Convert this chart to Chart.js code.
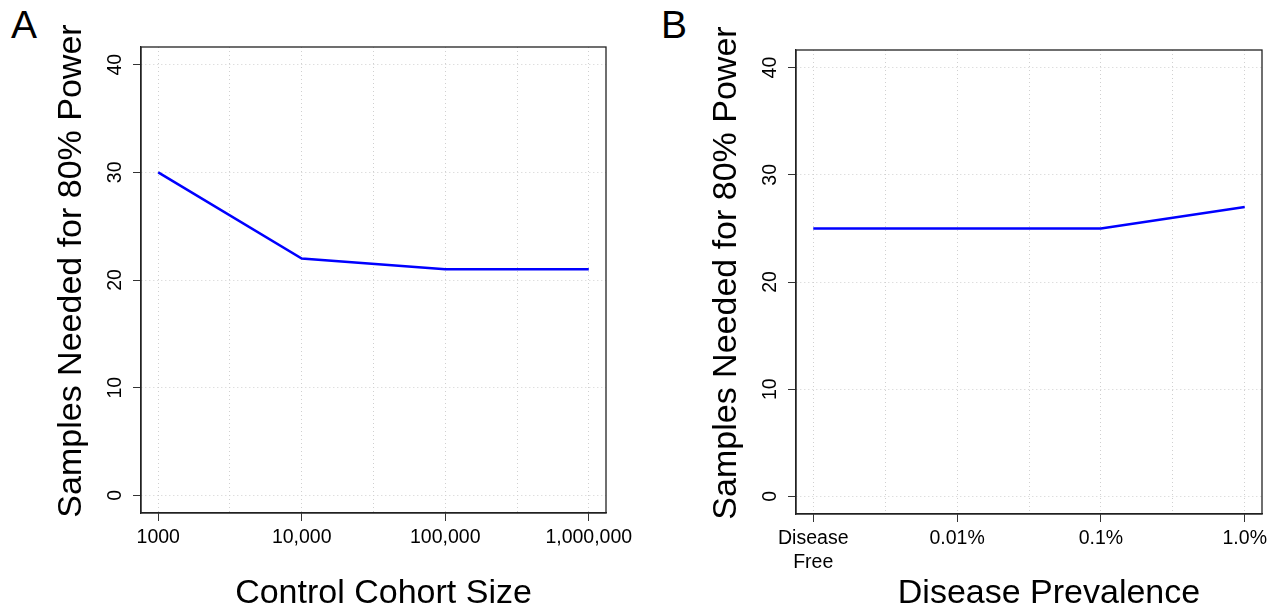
<!DOCTYPE html>
<html>
<head>
<meta charset="utf-8">
<script src="https://cdn.jsdelivr.net/npm/chart.js@4.4.0/dist/chart.umd.min.js"></script>
<style>
  body { margin: 0; background: #fff; width: 1278px; height: 613px; overflow: hidden; position: relative; font-family: "Liberation Sans", Arial, sans-serif; }
  .panel { position: absolute; top: 0; width: 639px; height: 613px; }
  .letter { position: absolute; font-size: 39px; line-height: 39px; color: #000; }
</style>
</head>
<body>
<div class="letter" style="left:11px; top:5px;">A</div>
<div class="letter" style="left:661px; top:5px;">B</div>
<div class="panel" style="left:0px;"><canvas id="chartA" width="639" height="613"></canvas></div>
<div class="panel" style="left:640px;"><canvas id="chartB" width="639" height="613"></canvas></div>
<script>
const cohortSizes = ["1000", "10,000", "100,000", "1,000,000"];
const samplesByCohort = [30, 22, 21, 21];

const prevalence = ["Disease\nFree", "0.01%", "0.1%", "1.0%"];
const samplesByPrevalence = [25, 25, 25, 27];

const yTicks = [0, 10, 20, 30, 40];
const yTitle = "Samples Needed for 80% Power";

const FONT = "'Liberation Sans', Arial, sans-serif";

// box round the plot, rotated y labels and the two axis titles (R style)
const rStyle = {
    id: 'rStyle',
    afterDraw(chart, args, opts) {
        const ctx = chart.ctx;
        const a = chart.chartArea;
        ctx.save();
        ctx.strokeStyle = '#222';
        ctx.lineWidth = 1.3;
        ctx.strokeRect(a.left, a.top, a.right - a.left, a.bottom - a.top);
        const y = chart.scales.y;
        ctx.fillStyle = '#000';
        ctx.font = "19.5px " + FONT;
        ctx.textAlign = 'center';
        ctx.textBaseline = 'middle';
        y.ticks.forEach(t => {
            const py = y.getPixelForValue(t.value);
            ctx.save();
            ctx.translate(a.left - 25, py);
            ctx.rotate(-Math.PI / 2);
            ctx.fillText(String(t.value), 0, 0);
            ctx.restore();
        });
        ctx.font = "34px " + FONT;
        ctx.textBaseline = 'alphabetic';
        // x title
        ctx.fillText(opts.xTitle, (a.left + a.right) / 2 + opts.xShift, 603);
        // y title
        ctx.translate(opts.titleX, (a.top + a.bottom) / 2 - 9);
        ctx.rotate(-Math.PI / 2);
        ctx.fillText(yTitle, 0, 0);
        ctx.restore();
    }
};

function drawPanel(canvasId, labels, values, xTitle, area) {
    const n = labels.length;
    const pad = (n - 1) * 0.04;
    const xTickVals = [];
    for (let v = 0; v <= n - 1; v += 0.5) xTickVals.push(v);

    new Chart(document.getElementById(canvasId), {
        type: 'line',
        data: {
            datasets: [{
                data: values.map((v, i) => ({ x: i, y: v })),
                borderColor: '#0000ff',
                borderWidth: 2.5,
                pointRadius: 0,
                tension: 0,
                fill: false
            }]
        },
        plugins: [rStyle],
        options: {
            responsive: false,
            animation: false,
            layout: { padding: { top: area.top, right: area.right, left: 0, bottom: 0 } },
            plugins: {
                legend: { display: false },
                tooltip: { enabled: false },
                rStyle: { titleX: area.titleX, xTitle: xTitle, xShift: area.xShift }
            },
            scales: {
                x: {
                    type: 'linear',
                    min: -pad,
                    max: n - 1 + pad,
                    afterBuildTicks: s => { s.ticks = xTickVals.map(v => ({ value: v })); },
                    afterFit: s => { s.height = area.bottomH; },
                    grid: {
                        color: '#d0d0d0',
                        lineWidth: 1,
                        tickLength: 8,
                        tickColor: c => (c.tick && c.tick.value % 1 === 0) ? '#333' : 'rgba(0,0,0,0)'
                    },
                    border: { display: true, color: '#222', width: 1.3, dash: [1, 3] },
                    ticks: {
                        autoSkip: false,
                        maxRotation: 0,
                        minRotation: 0,
                        padding: 4,
                        color: '#000',
                        font: { family: FONT, size: 19.5, lineHeight: 1.25 },
                        callback: v => (v % 1 === 0) ? labels[v].split('\n') : ''
                    },
                    title: { display: false }
                },
                y: {
                    min: -1.64,
                    max: 41.64,
                    afterBuildTicks: s => { s.ticks = yTicks.map(v => ({ value: v })); },
                    afterFit: s => { s.width = area.left; },
                    grid: {
                        color: '#d0d0d0',
                        lineWidth: 1,
                        tickLength: 8,
                        tickColor: '#333'
                    },
                    border: { display: true, color: '#222', width: 1.3, dash: [1, 3] },
                    ticks: { display: false },
                    title: { display: false }
                }
            }
        }
    });
}

drawPanel('chartA', cohortSizes, samplesByCohort, "Control Cohort Size",
    { top: 47, right: 33, left: 141, bottomH: 100, titleX: 81, xShift: 10 });
drawPanel('chartB', prevalence, samplesByPrevalence, "Disease Prevalence",
    { top: 50, right: 17, left: 156, bottomH: 99, titleX: 96, xShift: 20 });
</script>
</body>
</html>
